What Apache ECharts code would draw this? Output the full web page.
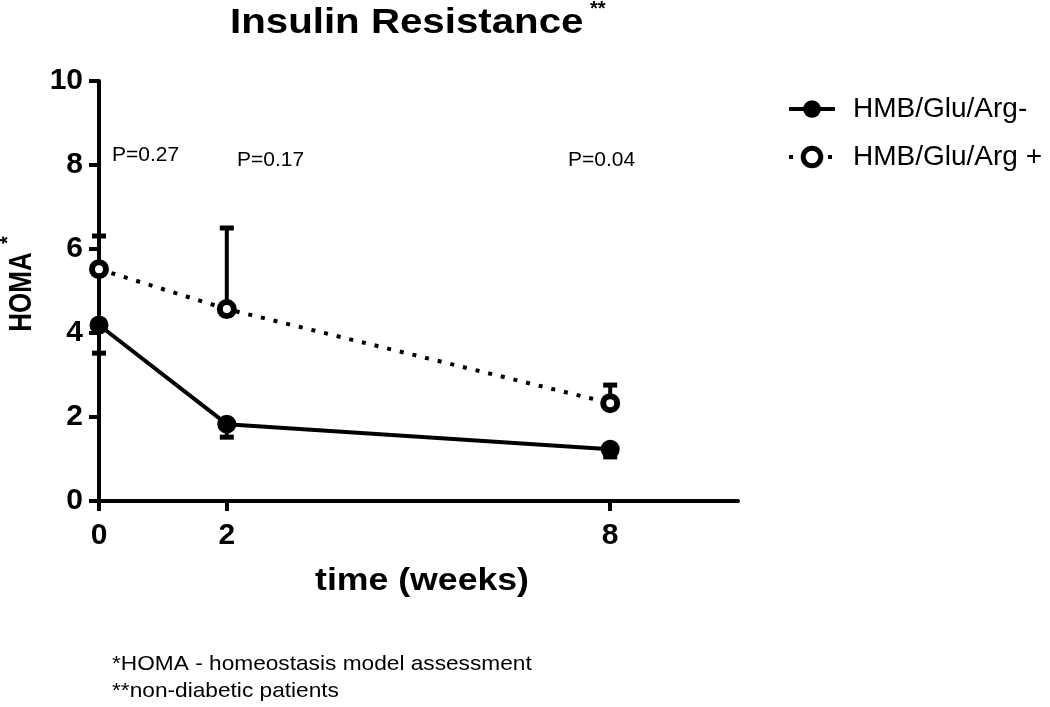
<!DOCTYPE html>
<html>
<head>
<meta charset="utf-8">
<script src="https://cdn.jsdelivr.net/npm/echarts@6/dist/echarts.min.js"></script>
<style>
html,body{margin:0;padding:0;background:#fff;}
#chart{width:1050px;height:707px;}
</style>
</head>
<body>
<div id="chart"></div>
<script>
// ---- data ----
var weeks = [0, 2, 8];
var xTickValues = [0, 2, 8];
var seriesNames = ['HMB/Glu/Arg-', 'HMB/Glu/Arg +'];
var homaMinus = [4.19, 1.83, 1.23];
var homaMinusErrEnd = [3.52, 1.52, 1.05];   // lower error bar end
var homaPlus = [5.52, 4.57, 2.33];
var homaPlusErrEnd = [6.31, 6.50, 2.76];    // upper error bar end
var pLabels = ['P=0.27', 'P=0.17', 'P=0.04'];
var titleText = 'Insulin Resistance';
var yName = 'HOMA';
var xName = 'time (weeks)';
var footnotes = ['*HOMA - homeostasis model assessment', '**non-diabetic patients'];

var FONT = '"Liberation Sans", Arial, sans-serif';

function pairs(xs, ys) { return xs.map(function (x, i) { return [x, ys[i]]; }); }
function triples(xs, ys, es) { return xs.map(function (x, i) { return [x, ys[i], es[i]]; }); }

function errRender(params, api) {
  var x = api.value(0), y = api.value(1), e = api.value(2);
  var p1 = api.coord([x, y]);
  var p2 = api.coord([x, e]);
  var cw = 7;
  return {
    type: 'group',
    children: [
      { type: 'line', shape: { x1: p1[0], y1: p1[1], x2: p2[0], y2: p2[1] }, style: { stroke: '#000', lineWidth: 4 } },
      { type: 'line', shape: { x1: p2[0] - cw, y1: p2[1], x2: p2[0] + cw, y2: p2[1] }, style: { stroke: '#000', lineWidth: 5 } }
    ]
  };
}

var chart = echarts.init(document.getElementById('chart'));
var option = {
  backgroundColor: '#fff',
  animation: false,
  grid: { left: 99, right: 312, top: 81, bottom: 206, containLabel: false },
  legend: {
    orient: 'vertical',
    left: 782, top: 90,
    itemWidth: 46, itemHeight: 22,
    itemGap: 20,
    lineStyle: { width: 4 },
    data: [
      { name: seriesNames[0] },
      { name: seriesNames[1], itemStyle: { borderWidth: 5 } }
    ],
    textStyle: { fontFamily: FONT, fontSize: 28, color: '#000', padding: [0, 0, 0, 13] }
  },
  xAxis: {
    type: 'value', min: 0, max: 10, interval: 2,
    axisLine: { show: true, onZero: false, lineStyle: { color: '#000', width: 4 } },
    axisTick: { show: true, customValues: xTickValues, length: 10, lineStyle: { color: '#000', width: 4 } },
    axisLabel: { customValues: xTickValues, margin: 20, fontFamily: FONT, fontSize: 30, fontWeight: 'bold', color: '#000' },
    splitLine: { show: false }
  },
  yAxis: {
    type: 'value', min: 0, max: 10, interval: 2,
    axisLine: { show: true, lineStyle: { color: '#000', width: 4 } },
    axisTick: { show: true, length: 10, lineStyle: { color: '#000', width: 4 } },
    axisLabel: { margin: 16, fontFamily: FONT, fontSize: 30, fontWeight: 'bold', color: '#000' },
    splitLine: { show: false }
  },
  series: [
    {
      name: 'errMinus', type: 'custom', renderItem: errRender, z: 2,
      data: triples(weeks, homaMinus, homaMinusErrEnd), clip: false, silent: true
    },
    {
      name: 'errPlus', type: 'custom', renderItem: errRender, z: 2,
      data: triples(weeks, homaPlus, homaPlusErrEnd), clip: false, silent: true
    },
    {
      name: seriesNames[0], type: 'line', z: 5, clip: false,
      data: pairs(weeks, homaMinus),
      symbol: 'circle', symbolSize: 19,
      lineStyle: { color: '#000', width: 4 },
      itemStyle: { color: '#000', borderColor: '#000', borderWidth: 0 }
    },
    {
      name: seriesNames[1], type: 'line', z: 5, clip: false,
      data: pairs(weeks, homaPlus),
      symbol: 'circle', symbolSize: 14,
      lineStyle: { color: '#000', width: 4, type: [4, 9], cap: 'butt' },
      itemStyle: { color: '#fff', borderColor: '#000', borderWidth: 6 }
    }
  ],
  graphic: [
    { type: 'text', x: 230, y: 23, scaleX: 1.15, style: { text: titleText, font: 'bold 35px ' + FONT, fill: '#000', align: 'left', verticalAlign: 'middle' } },
    { type: 'text', left: 590, top: -1, style: { text: '**', font: 'bold 20px ' + FONT, fill: '#000' } },
    { type: 'text', x: 22, y: 292, rotation: Math.PI / 2, scaleY: 1.2, style: { text: yName, font: 'bold 26px ' + FONT, fill: '#000', align: 'center', verticalAlign: 'middle' } },
    { type: 'text', x: 8, y: 240, rotation: Math.PI / 2, style: { text: '*', font: 'bold 20px ' + FONT, fill: '#000', align: 'center', verticalAlign: 'middle' } },
    { type: 'text', x: 422, y: 581, scaleX: 1.15, style: { text: xName, font: 'bold 31px ' + FONT, fill: '#000', align: 'center', verticalAlign: 'middle' } },
    { type: 'text', x: 112, y: 155, style: { text: pLabels[0], font: '21px ' + FONT, fill: '#000', align: 'left', verticalAlign: 'middle' } },
    { type: 'text', x: 237, y: 160, style: { text: pLabels[1], font: '21px ' + FONT, fill: '#000', align: 'left', verticalAlign: 'middle' } },
    { type: 'text', x: 568, y: 160, style: { text: pLabels[2], font: '21px ' + FONT, fill: '#000', align: 'left', verticalAlign: 'middle' } },
    { type: 'text', x: 112, y: 664, scaleX: 1.08, style: { text: footnotes[0], font: '21px ' + FONT, fill: '#000', align: 'left', verticalAlign: 'middle' } },
    { type: 'text', x: 112, y: 691, scaleX: 1.08, style: { text: footnotes[1], font: '21px ' + FONT, fill: '#000', align: 'left', verticalAlign: 'middle' } }
  ]
};
chart.setOption(option);
</script>
</body>
</html>
